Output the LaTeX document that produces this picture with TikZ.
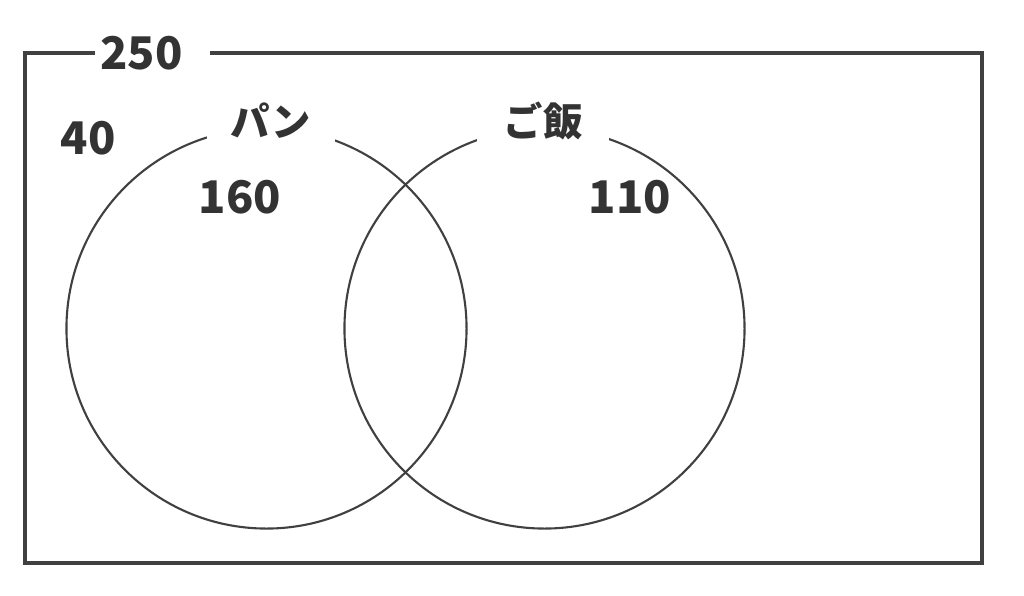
\documentclass[tikz,border=0pt]{standalone}
\usepackage{fontspec}
\setmainfont{Noto Sans CJK JP}

\begin{document}
\begin{tikzpicture}[x=0.025cm, y=-0.025cm,
                    every node/.style={text=black!80,
                                       font=\fontsize{32}{38}\selectfont\bfseries},
                    setline/.style={draw=black!75, line width=1.5pt},
                    setlabel/.style={fill=white, inner sep=0pt, minimum height=1.1cm,
                                     font=\fontsize{28}{34}\selectfont\bfseries}]
  \useasboundingbox (0,0) rectangle (1024,595);
  \draw[setline, line width=2.2pt] (25,53) rectangle (982,563);
  \node[fill=white, anchor=west, inner xsep=0.125cm, inner ysep=0pt,
        text width=2.625cm, align=left] (total) at (95,53) {250};

  \foreach \n/\x in {pan/266.5, gohan/544.5} {
          \node[setline, circle, minimum size=10cm, inner sep=0pt] (C\n) at (\x,328.5) {};
      }

  \node[setlabel, minimum width=3.175cm] (Lpan) at (271,121) {パン};
  \node[setlabel, minimum width=3.275cm] (Lgohan) at (543,121) {ご飯};

  \foreach \n/\p/\t in {out/{(88,138)}/40, pan/{(240,197)}/160, gohan/{(630,197)}/110} {
          \node (N\n) at \p {\t};
      }
\end{tikzpicture}
\end{document}
